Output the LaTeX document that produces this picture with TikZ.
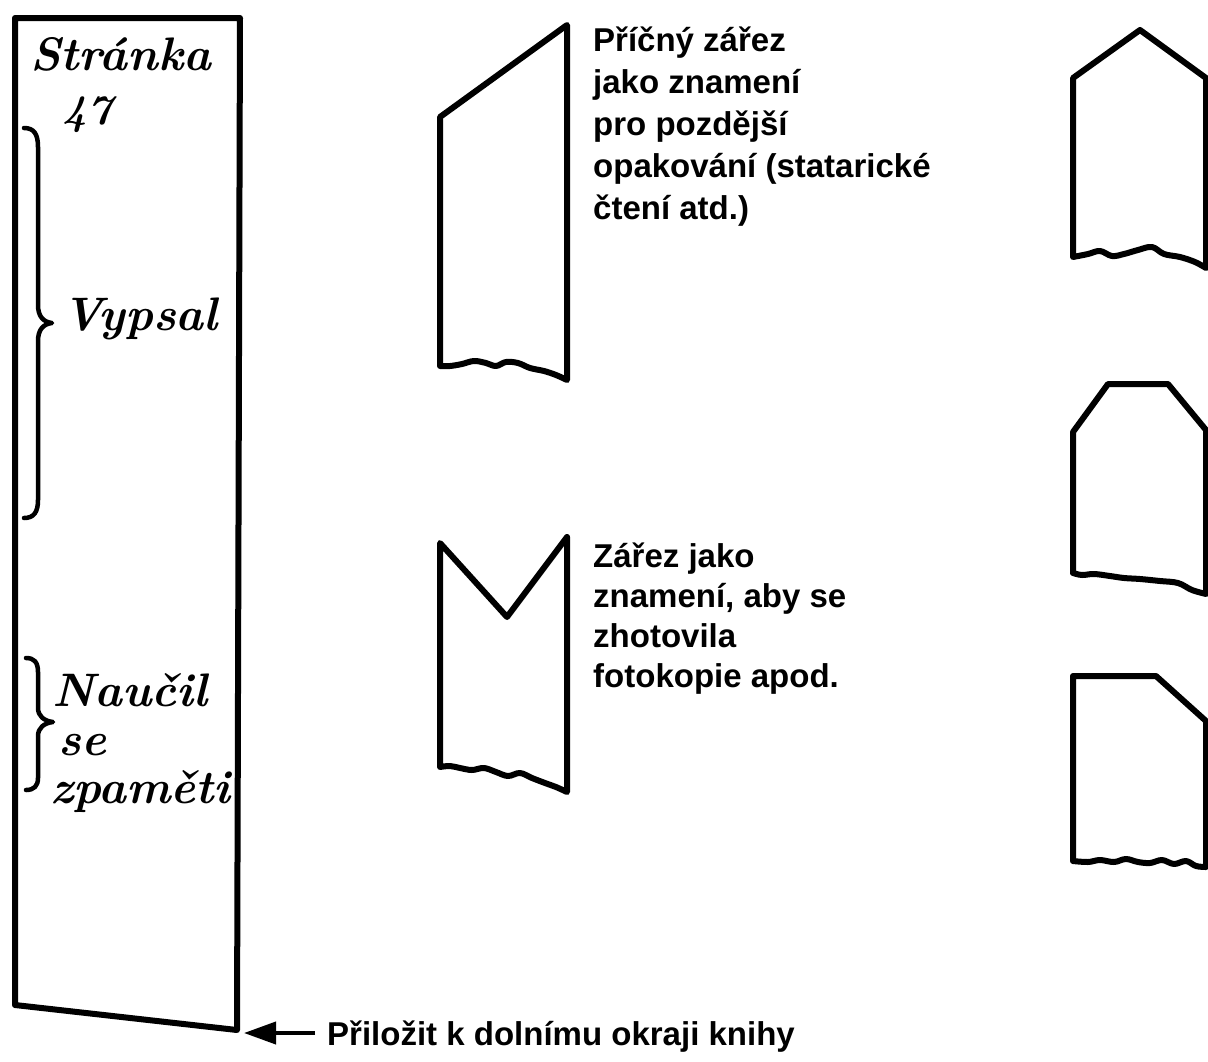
\documentclass[tikz,border=0pt]{standalone}
\usepackage{fontspec}
\usetikzlibrary{arrows.meta}
\newfontfamily\labfont{Liberation Sans}
\begin{document}
\begin{tikzpicture}[x=1pt,y=-1pt,
  outline/.style={line width=6pt, line join=round, line cap=round},
  bracestroke/.style={line width=4.5pt, line cap=round, line join=round},
  lab/.style={anchor=base west, inner sep=0pt, font=\labfont\bfseries\fontsize{33}{40}\selectfont},
  hand/.style={anchor=base west, inner sep=0pt, font=\rmfamily\bfseries\itshape\fontsize{47}{47}\selectfont},
  pointer/.style={line width=4pt, -{Triangle[length=32pt,width=22pt]}}]
\useasboundingbox (0,0) rectangle (1208,1061);

% page strip
\draw[outline] (15,18) -- (240,18) -- (237,1030) -- (15,1005) -- cycle;
\node[hand] (str) at (30,70) {Stránka};
\node[hand, font=\rmfamily\bfseries\itshape\fontsize{42}{42}\selectfont] (num) at (62,124) {47};
\draw[bracestroke] (24,128) .. controls (34,128) and (38,134) .. (38,147) -- (38,305)
  .. controls (38,316) and (43,322) .. (52,323) .. controls (43,324) and (38,330) .. (38,341)
  -- (38,500) .. controls (38,512) and (34,518) .. (24,518);
\node[hand] (vyp) at (62,330) {Vypsal};
\draw[bracestroke] (26,658) .. controls (34,658) and (38,662) .. (38,672) -- (38,708)
  .. controls (38,716) and (44,721) .. (53,722) .. controls (44,723) and (38,728) .. (38,736)
  -- (38,778) .. controls (38,786) and (34,790) .. (26,790);
\node[hand] (nau) at (52,706) {Naučil};
\node[hand] (se) at (58,755) {se};
\node[hand] (zpa) at (50,803) {zpaměti};

% arrow and bottom label
\coordinate (tip) at (244,1033);
\node[lab] (bot) at (327,1045) {Přiložit k dolnímu okraji knihy};
\draw[pointer, shorten <=12pt] (bot.west |- tip) -- (tip);

% middle shape 1 (slanted cut)
\draw[outline] (440,117) -- (567,25) -- (567,380)
  -- plot[smooth, tension=0.6] coordinates {(567,380) (556,375) (544,371) (530,368) (518,363) (506,362) (496,366) (486,363) (474,361) (462,364) (450,366) (440,366)}
  -- cycle;
\node[lab] (t1a) at (593,51) {Příčný zářez};
\node[lab] (t1b) at (593,93) {jako znamení};
\node[lab] (t1c) at (593,135) {pro pozdější};
\node[lab] (t1d) at (593,177) {opakování (statarické};
\node[lab] (t1e) at (593,219) {čtení atd.)};

% middle shape 2 (V notch)
\draw[outline] (440,543) -- (507,617) -- (567,537) -- (567,792)
  -- plot[smooth, tension=0.6] coordinates {(567,792) (556,787) (545,783) (532,778) (520,773) (508,776) (496,772) (484,768) (472,770) (460,768) (450,766) (440,767)}
  -- cycle;
\node[lab] (t2a) at (593,567) {Zářez jako};
\node[lab] (t2b) at (593,607) {znamení, aby se};
\node[lab] (t2c) at (593,647) {zhotovila};
\node[lab] (t2d) at (593,687) {fotokopie apod.};

% right column shapes
\draw[outline] (1073,78) -- (1140,30) -- (1206,78) -- (1206,268)
  -- plot[smooth, tension=0.6] coordinates {(1206,268) (1195,262) (1180,257) (1164,254) (1152,247) (1138,250) (1124,254) (1112,256) (1100,251) (1088,254) (1073,257)}
  -- cycle;
\draw[outline] (1073,432) -- (1108,384) -- (1168,384) -- (1206,430) -- (1206,594)
  -- plot[smooth, tension=0.6] coordinates {(1206,594) (1192,590) (1178,583) (1160,581) (1140,579) (1124,578) (1110,576) (1094,574) (1082,575) (1073,573)}
  -- cycle;
\draw[outline] (1073,676) -- (1156,676) -- (1206,721) -- (1206,867)
  -- plot[smooth, tension=0.6] coordinates {(1206,867) (1196,866) (1186,861) (1174,864) (1162,860) (1150,863) (1138,862) (1126,859) (1114,862) (1100,860) (1088,862) (1073,861)}
  -- cycle;
\end{tikzpicture}
\end{document}
